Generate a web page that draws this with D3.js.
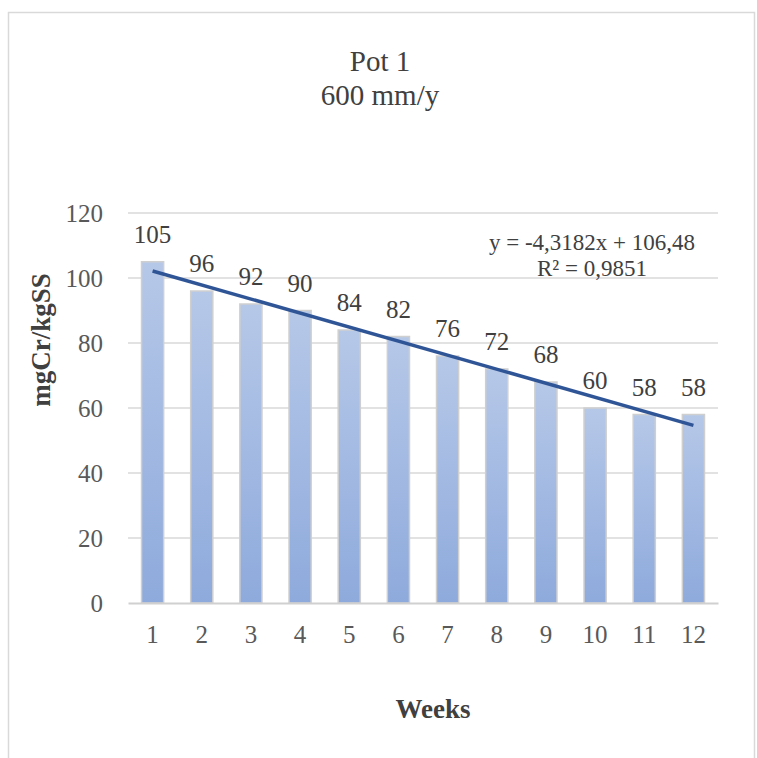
<!DOCTYPE html>
<meta charset="utf-8">
<script src="https://d3js.org/d3.v7.js"></script>
<style>
  body { margin: 0; background: #fff; }
  text { font-family: "Liberation Serif", "Times New Roman", serif; }
</style>
<div id="chart"></div>
<script>

// data
var weeks = ["1", "2", "3", "4", "5", "6", "7", "8", "9", "10", "11", "12"];
var values = [105, 96, 92, 90, 84, 82, 76, 72, 68, 60, 58, 58];
var yTicks = [0, 20, 40, 60, 80, 100, 120];
// linear trend as printed on the chart
var slope = -4.3182, intercept = 106.48;
var trendText = ["y = -4,3182x + 106,48", "R\u00b2 = 0,9851"];

var W = 757, H = 758;
var margin = {top: 213, right: 39, bottom: 155, left: 128},
    width = W - margin.left - margin.right,
    height = H - margin.top - margin.bottom;

var svg = d3.select("#chart").append("svg")
    .attr("width", W)
    .attr("height", H);

// outer frame
svg.append("rect")
  .attr("x", 8.5).attr("y", 12.5)
  .attr("width", 746).attr("height", 760)
  .attr("fill", "none")
  .attr("stroke", "#d9d9d9")
  .attr("stroke-width", 1.5);

var defs = svg.append("defs");
var grad = defs.append("linearGradient")
  .attr("id", "barGrad")
  .attr("x1", 0).attr("y1", 0).attr("x2", 0).attr("y2", 1);
grad.append("stop").attr("offset", "0%").attr("stop-color", "#b6c8e8");
grad.append("stop").attr("offset", "100%").attr("stop-color", "#8eaadc");

// title
svg.append("text")
  .attr("x", 380).attr("y", 71)
  .attr("text-anchor", "middle")
  .attr("font-size", 29)
  .attr("fill", "#404040")
  .text("Pot 1");
svg.append("text")
  .attr("x", 380).attr("y", 105)
  .attr("text-anchor", "middle")
  .attr("font-size", 29)
  .attr("fill", "#404040")
  .text("600 mm/y");

var g = svg.append("g")
  .attr("transform", "translate(" + margin.left + "," + margin.top + ")");

var x = d3.scaleBand().domain(weeks).range([0, width]).paddingInner(0.55).paddingOuter(0.275);
var y = d3.scaleLinear().domain([0, 120]).range([height, 0]);

// gridlines
g.selectAll(".grid")
  .data(yTicks.filter(d => d > 0))
  .join("line")
    .attr("class", "grid")
    .attr("x1", 0).attr("x2", width)
    .attr("y1", d => y(d)).attr("y2", d => y(d))
    .attr("stroke", "#d9d9d9")
    .attr("stroke-width", 1.5);

// y axis labels
var yAxis = d3.axisLeft(y).tickValues(yTicks).tickSize(0).tickPadding(25);
g.append("g").call(yAxis)
  .call(s => s.select(".domain").remove())
  .selectAll("text")
    .attr("font-size", 25)
    .attr("fill", "#595959");

// bars
g.selectAll(".bar")
  .data(values)
  .join("rect")
    .attr("class", "bar")
    .attr("x", (d, i) => x(weeks[i]))
    .attr("y", d => y(d))
    .attr("width", x.bandwidth())
    .attr("height", d => height - y(d))
    .attr("fill", "url(#barGrad)")
    .attr("stroke", "#cfcfcf")
    .attr("stroke-width", 1.5);

// x axis
var xAxis = d3.axisBottom(x).tickSize(0).tickPadding(22);
g.append("g")
  .attr("transform", "translate(0," + height + ")")
  .call(xAxis)
  .call(s => s.select(".domain").attr("stroke", "#d0d0d0").attr("stroke-width", 2))
  .selectAll("text")
    .attr("font-size", 25)
    .attr("fill", "#595959");

// trend line
var cx = i => x(weeks[i]) + x.bandwidth() / 2;
var trend = [0, weeks.length - 1].map(i => ({i: i, v: intercept + slope * (i + 1)}));
g.append("path")
  .datum(trend)
  .attr("d", d3.line().x(d => cx(d.i)).y(d => y(d.v)))
  .attr("fill", "none")
  .attr("stroke", "#2f5597")
  .attr("stroke-width", 3.5);

// data labels
g.selectAll(".lbl")
  .data(values)
  .join("text")
    .attr("class", "lbl")
    .attr("x", (d, i) => cx(i))
    .attr("y", d => y(d) - 19)
    .attr("text-anchor", "middle")
    .attr("font-size", 25)
    .attr("fill", "#404040")
    .text(d => d);

// trend equation
svg.append("text")
  .attr("x", 592).attr("y", 250)
  .attr("text-anchor", "middle")
  .attr("font-size", 23)
  .attr("fill", "#404040")
  .text(trendText[0]);
svg.append("text")
  .attr("x", 592).attr("y", 276)
  .attr("text-anchor", "middle")
  .attr("font-size", 23)
  .attr("fill", "#404040")
  .text(trendText[1]);

// axis titles
svg.append("text")
  .attr("transform", "translate(50,340) rotate(-90)")
  .attr("text-anchor", "middle")
  .attr("font-size", 27)
  .attr("font-weight", "bold")
  .attr("fill", "#404040")
  .text("mgCr/kgSS");
svg.append("text")
  .attr("x", 433).attr("y", 718)
  .attr("text-anchor", "middle")
  .attr("font-size", 27)
  .attr("font-weight", "bold")
  .attr("fill", "#404040")
  .text("Weeks");

</script>
